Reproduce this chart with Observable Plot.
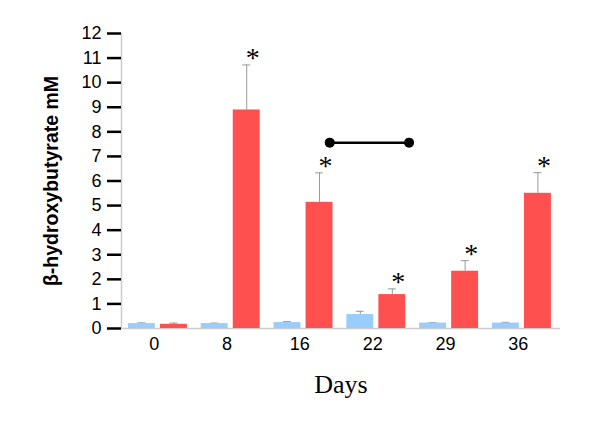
<!DOCTYPE html>
<html>
<head>
<meta charset="utf-8">
<script src="https://cdn.jsdelivr.net/npm/d3@7"></script>
<script src="https://cdn.jsdelivr.net/npm/@observablehq/plot@0.6"></script>
<style>
  html, body { margin: 0; padding: 0; background: #fff; }
  #chart svg { display: block; }
</style>
</head>
<body>
<div id="chart"></div>
<script>
const days = ["0", "8", "16", "22", "29", "36"];
const control = [0.20, 0.20, 0.24, 0.57, 0.22, 0.22];
const controlErr = [0.03, 0.02, 0.04, 0.13, 0.02, 0.03];
const ketogenic = [0.17, 8.89, 5.13, 1.38, 2.33, 5.50];
const ketogenicErr = [0.05, 1.83, 1.20, 0.23, 0.43, 0.84];
const significant = [false, true, true, true, true, true];
const yTicks = [0, 1, 2, 3, 4, 5, 6, 7, 8, 9, 10, 11, 12];
const bracketFrom = "16";
const bracketTo = "22";
const bracketLevel = 7.56;

const BLUE = "#99ccff", RED = "#ff5050";
const HALF = 0.405, GAP = 0.035, CAP = 0.055;

const rows = [];
days.forEach((d, i) => {
  rows.push({day: d, i, series: "control", value: control[i], err: controlErr[i],
             x1: i - HALF, x2: i - GAP, sig: false});
  rows.push({day: d, i, series: "ketogenic", value: ketogenic[i], err: ketogenicErr[i],
             x1: i + GAP, x2: i + HALF, sig: significant[i]});
});
rows.forEach(r => {
  r.xc = (r.x1 + r.x2) / 2; r.top = r.value + r.err;
  r.c1 = r.xc - CAP; r.c2 = r.xc + CAP;
  r.color = r.series === "control" ? BLUE : RED;
});

const bracket = [
  {x: days.indexOf(bracketFrom) + 0.36, y: bracketLevel},
  {x: days.indexOf(bracketTo) + 0.45, y: bracketLevel}
];
const tickPos = days.map((d, i) => i - 0.05);

const chart = Plot.plot({
  width: 600,
  height: 425,
  marginLeft: 121,
  marginRight: 40,
  marginTop: 33,
  marginBottom: 97,
  style: {fontFamily: "'Liberation Sans', Arial, Helvetica, sans-serif", background: "#fff"},
  x: {type: "linear", domain: [-0.5, 5.53]},
  y: {type: "linear", domain: [0, 12]},
  marks: [
    Plot.ruleY([0], {stroke: "#cccccc", strokeWidth: 1.5}),
    Plot.ruleX([-0.5], {y1: 0, y2: 12, stroke: "#cccccc", strokeWidth: 1.5}),
    Plot.axisY({ticks: yTicks, tickSize: 14, tickPadding: 6, stroke: "#000", strokeWidth: 2.5,
                fontSize: 18, label: null, tickFormat: d => String(d), fill: "#000"}),
    Plot.axisY({ticks: [], label: "β-hydroxybutyrate mM", labelAnchor: "center", labelArrow: "none",
                labelOffset: 77, fontSize: 19.5, fontWeight: "bold", fill: "#000"}),
    Plot.axisX({ticks: tickPos, tickSize: 0, tickPadding: 9, fontSize: 18,
                tickFormat: v => days[Math.round(v + 0.05)], label: null, fill: "#000"}),
    Plot.ruleX(rows, {x: "xc", y1: "value", y2: "top", stroke: "#999", strokeWidth: 1}),
    Plot.ruleY(rows, {y: "top", x1: "c1", x2: "c2", stroke: "#999", strokeWidth: 1}),
    Plot.rect(rows, {x1: "x1", x2: "x2", y1: 0, y2: "value", fill: "color"}),
    Plot.text(rows.filter(r => r.sig), {x: "xc", y: "top", text: () => "*", dx: 6, dy: 2,
                     fontSize: 28, fontFamily: "'Liberation Serif', 'Times New Roman', serif",
                     lineAnchor: "bottom", fill: "#000"}),
    Plot.line(bracket, {x: "x", y: "y", stroke: "#000", strokeWidth: 2.5}),
    Plot.dot(bracket, {x: "x", y: "y", r: 5, fill: "#000"}),
    Plot.text(["Days"], {frameAnchor: "bottom", dy: 64, fontSize: 26,
                     fontFamily: "'Liberation Serif', 'Times New Roman', serif", fill: "#000"})
  ]
});
document.getElementById("chart").appendChild(chart);
</script>
</body>
</html>
